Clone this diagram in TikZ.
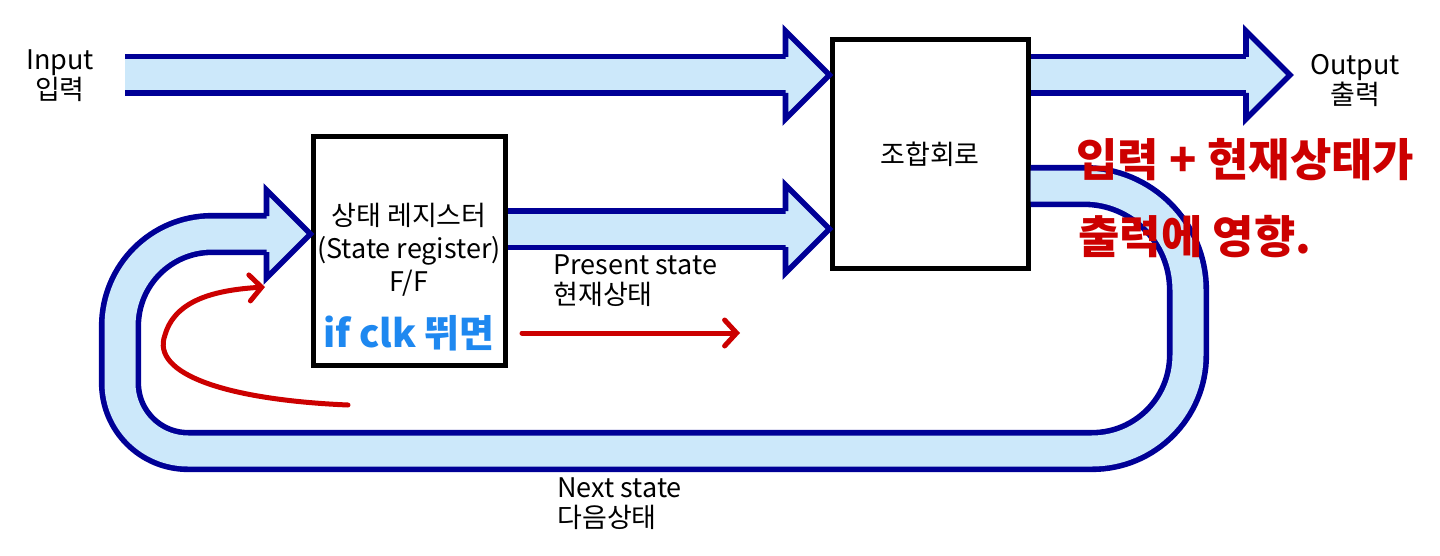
\documentclass[tikz,border=0pt]{standalone}
\usepackage{fontspec}
\setmainfont{Noto Sans CJK KR}
\usepackage{xcolor}
\usetikzlibrary{arrows.meta, calc}

\definecolor{bandblue}{RGB}{204,232,250}
\definecolor{bandnavy}{RGB}{0,0,150}
\definecolor{penred}{RGB}{204,0,0}
\definecolor{penblue}{RGB}{30,136,240}

\begin{document}
\begin{tikzpicture}[
    x=0.5pt, y=-0.5pt,
    every node/.style={font=\fontsize{13.5}{15}\selectfont},
    block/.style={rectangle, draw=black, line width=2.5pt, fill=white, inner sep=0pt},
    band/.style={draw=bandnavy, line width=2.8pt, double=bandblue, double distance=15.5pt, line cap=butt},
    bandhead/.pic={
        \fill[bandblue] (-44,-44) -- (0,0) -- (-44,44) -- cycle;
        \draw[bandnavy, line width=2.8pt, line join=miter] (-44,-18) -- (-44,-44) -- (0,0) -- (-44,44) -- (-44,18);
    },
    pen/.style={draw=penred, line width=2.5pt, line cap=round, -{Straight Barb[length=6pt, width=13pt, line cap=round]}},
    label/.style={align=left, inner sep=0pt},
    hand/.style={text=penred, font=\fontsize{22.5}{24}\selectfont\bfseries, anchor=west, inner sep=0pt}
]
\useasboundingbox (0,0) rectangle (1440,556);

% blocks
\node[block, minimum width=98pt, minimum height=114pt] (comb) at (930,154) {조합회로};
\node[block, minimum width=96pt, minimum height=114pt] (reg) at (409,251) {};
\node[align=center, inner sep=0pt, font=\fontsize{13.5}{16.5}\selectfont] (regtext) at (409,250) {상태 레지스터\\(State register)\\F/F};
\node[text=penblue, inner sep=0pt, font=\fontsize{19}{20}\selectfont\bfseries] (clk) at (409,333) {if clk 뛰면};

% in / out
\node[label, align=center] (inlabel) at (60,76) {Input\\입력};
\node[label, align=center] (outlabel) at (1355,80) {Output\\출력};

\coordinate (instart) at (125,75);
\draw[band] (instart) -- ($(comb.west |- instart)+(-42,0)$);
\pic at (comb.west |- instart) {bandhead};

\coordinate (outtip) at (1290,75);
\draw[band] (comb.east |- outtip) -- ($(outtip)+(-42,0)$);
\pic at (outtip) {bandhead};

% present state
\coordinate (presy) at (0,229);
\draw[band] (reg.east |- presy) -- ($(comb.west |- presy)+(-42,0)$);
\pic at (comb.west |- presy) {bandhead};
\node[label, anchor=west] (present) at (553,281) {Present state\\현재상태};

% next state loop
\coordinate (loopy) at (0,186);
\coordinate (regy) at (0,234);
\draw[band] (comb.east |- loopy) -- (1084,186) arc[start angle=90, end angle=0, radius=52pt]
    -- (1188,355) arc[start angle=0, end angle=-90, radius=48pt]
    -- (188,451) arc[start angle=-90, end angle=-180, radius=34pt]
    -- (120,326) arc[start angle=180, end angle=90, radius=46pt]
    -- ($(reg.west |- regy)+(-42,0)$);
\pic at (reg.west |- regy) {bandhead};
\node[label, anchor=west] (next) at (557,504) {Next state\\다음상태};

% notes
\node[hand] (note1) at (1076,160) {입력 + 현재상태가};
\node[hand] (note2) at (1078,237) {출력에 영향.};

\coordinate (tickfrom) at (522,333);
\coordinate (tickto) at (740,333);
\draw[pen] (tickfrom) -- (tickto);

\coordinate (clkfrom) at (348,405);
\coordinate (clkto) at (265,287);
\draw[pen] (clkfrom) .. controls (230,400) and (150,375) .. (165,335) .. controls (175,300) and (215,290) .. (clkto);
\end{tikzpicture}
\end{document}
